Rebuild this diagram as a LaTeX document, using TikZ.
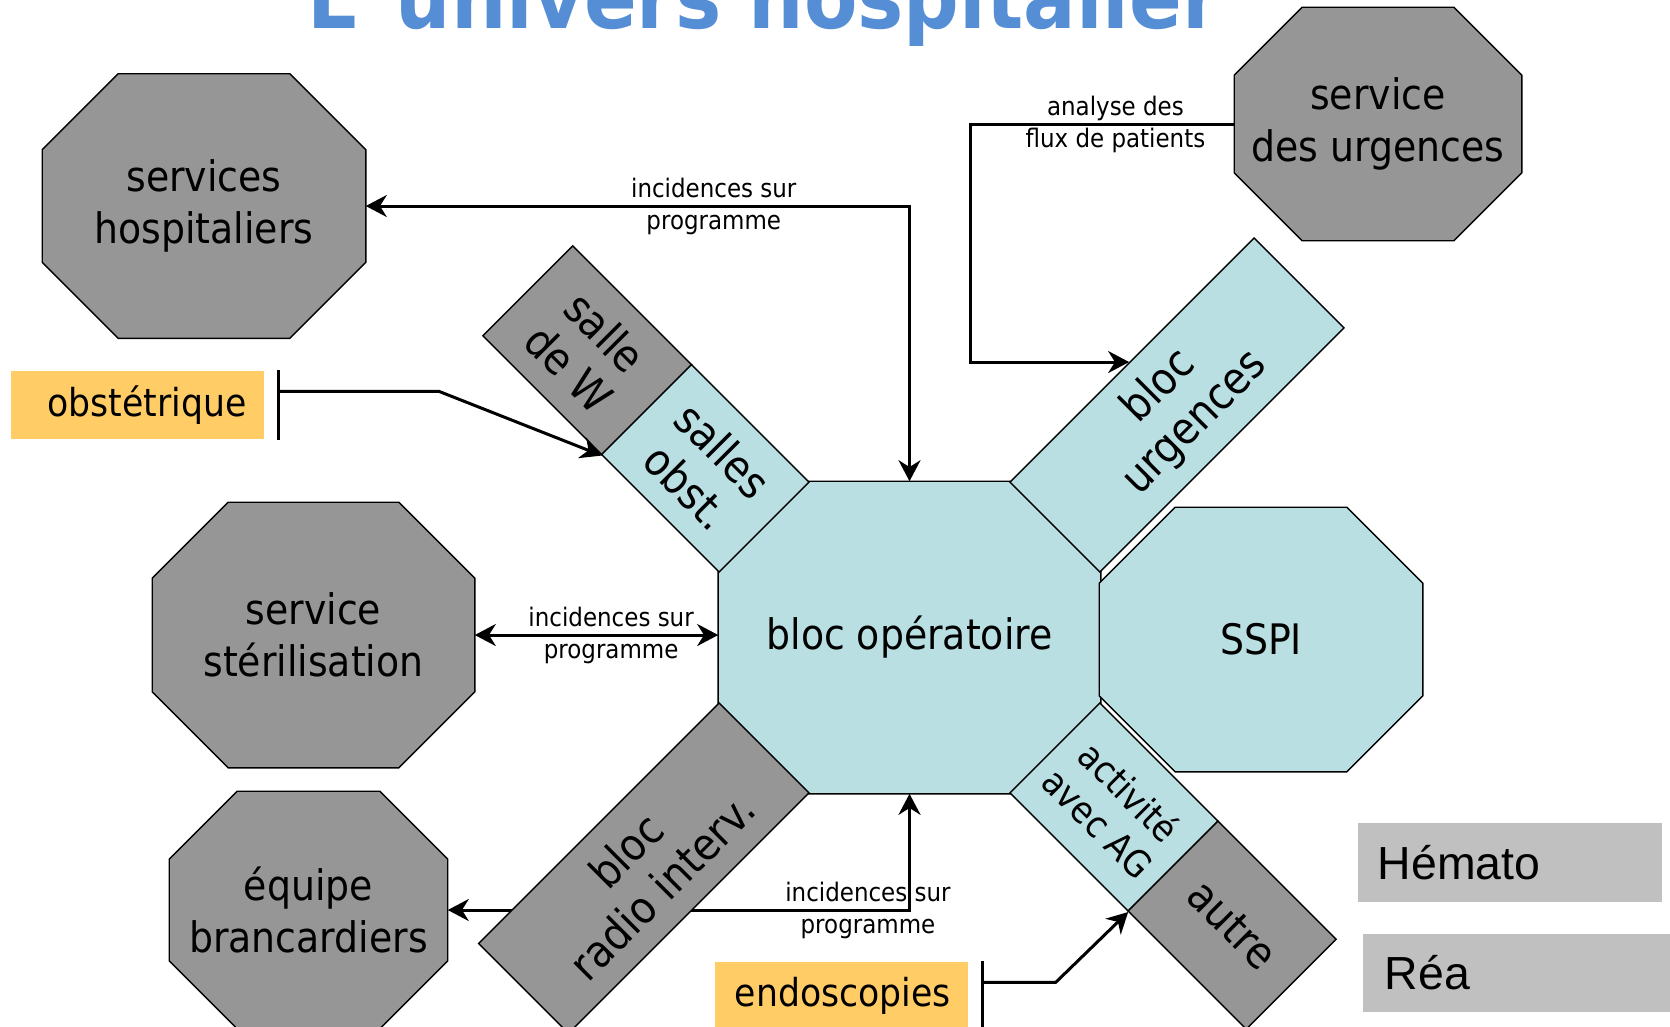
\documentclass[tikz,border=0pt]{standalone}
\usepackage{fontspec}
\setmainfont{DejaVu Sans}[FakeStretch=0.9]
\newfontfamily\boxfont{Liberation Sans}
\usepackage{tikz}
\usetikzlibrary{arrows.meta,positioning,calc,backgrounds}
\definecolor{octgray}{HTML}{969696}
\definecolor{octblue}{HTML}{B9DFE3}
\definecolor{tagorange}{HTML}{FFCC66}
\definecolor{boxgray}{HTML}{C0C0C0}
\definecolor{titleblue}{HTML}{558ED5}
% octagon behind a named node: name, chamfer, fill
\newcommand{\octoshape}[3]{%
  \begin{scope}[on background layer]
    \filldraw[line width=0.4pt, fill=#3]
      ($(#1.north west)+(#2,0)$) -- ($(#1.north east)+(-#2,0)$) -- ($(#1.north east)+(0,#2)$)
      -- ($(#1.south east)+(0,-#2)$) -- ($(#1.south east)+(-#2,0)$) -- ($(#1.south west)+(#2,0)$)
      -- ($(#1.south west)+(0,-#2)$) -- ($(#1.north west)+(0,#2)$) -- cycle;
  \end{scope}}

\begin{document}
\begin{tikzpicture}[
  x=0.01cm, y=-0.01cm,
  octo/.style  = {align=center, inner sep=0pt,
                  font=\fontsize{11.95}{14.8}\selectfont},
  arm/.style   = {draw, line width=0.4pt, align=center, inner sep=0pt,
                  minimum height=1.27cm, font=\fontsize{12.6}{14.6}\selectfont},
  tagbox/.style= {fill=tagorange, minimum width=2.53cm, minimum height=0.68cm,
                  text width=2.18cm, align=right, inner xsep=0.175cm,
                  font=\fontsize{10.95}{13}\selectfont},
  extbox/.style= {fill=boxgray, minimum height=0.785cm, align=left,
                  font=\boxfont\fontsize{13.2}{15}\selectfont},
  arr/.style   = {-{Stealth[length=0.21cm, width=0.22cm]}, line width=0.03cm},
  dblarr/.style= {{Stealth[length=0.21cm, width=0.22cm]}-{Stealth[length=0.21cm, width=0.22cm]},
                  line width=0.03cm},
  bar/.style   = {line width=0.03cm},
  tag/.style   = {font=\fontsize{7.26}{9.1}\selectfont, align=center, inner sep=0pt}
]
\useasboundingbox (0,0) rectangle (1670,1026);

\node[anchor=base, text=titleblue, font=\fontsize{24.6}{28}\selectfont\bfseries]
     (title) at (764,28) {L' univers hospitalier};

% services autour du bloc
\node[octo, minimum width=3.22cm, minimum height=2.63cm] (hosp) at (204,206) {services\\hospitaliers};
\octoshape{hosp}{76}{octgray}
\node[octo, minimum width=2.86cm, minimum height=2.32cm] (urgsvc) at (1378,124) {service\\des urgences};
\octoshape{urgsvc}{68}{octgray}
\node[octo, minimum width=3.21cm, minimum height=2.64cm] (ster) at (313.5,635) {service\\stérilisation};
\octoshape{ster}{76}{octgray}
\node[octo, minimum width=2.77cm, minimum height=2.36cm] (branc) at (308.5,910) {équipe\\brancardiers};
\octoshape{branc}{68}{octgray}

% bloc operatoire et ses salles
\node[octo, minimum width=3.81cm, minimum height=3.11cm] (blocop) at (909.5,637.5) {bloc opératoire};
\octoshape{blocop}{90}{octblue}
\node[octo, minimum width=3.22cm, minimum height=2.63cm] (sspi) at (1261,639.5) {SSPI};
\octoshape{sspi}{76}{octblue}

\node[arm, fill=octgray, rotate=-45, minimum width=1.68cm] (wroom) at (587.2,350.2) {salle\\de W};
\node[arm, fill=octblue, rotate=-45, minimum width=1.66cm] (sobst) at (705.3,468.3) {salles\\obst.};
\node[arm, fill=octblue, rotate=45, minimum width=3.45cm] (burg) at (1177,405) {bloc\\urgences};
\node[arm, fill=octgray, rotate=45, minimum width=3.40cm] (radio) at (643.8,868.2) {bloc\\radio interv.};
\node[arm, fill=octblue, rotate=-45, minimum width=1.67cm, font=\fontsize{10.5}{12.6}\selectfont]
     (actag) at (1114,807) {activité\\avec AG};
\node[arm, fill=octgray, rotate=-45, minimum width=1.67cm] (autre) at (1232.1,925.1) {autre};

\node[tagbox] (obstet) at (137.5,405) {obstétrique};
\node[tagbox] (endo) at (841.5,996) {endoscopies};

\node[extbox, minimum width=3.04cm, text width=2.64cm, inner xsep=0.2cm]
     (hemato) at (1510,862.5) {Hémato};
\node[extbox, minimum width=3.07cm, text width=2.63cm, inner xsep=0.22cm]
     (rea) at (1516.5,973) {Réa};

% liaisons
\draw[dblarr] (hosp.east) -| node[tag, pos=0.32]{incidences sur\\programme} (blocop.north);
\draw[dblarr] (ster.east) -- node[tag, pos=0.56]{incidences sur\\programme} (ster.east -| blocop.west);
\begin{scope}[on background layer]
\draw[dblarr] (branc.east) -| node[tag, pos=0.455]{incidences sur\\programme} (blocop.south);
\end{scope}

\draw[arr] (urgsvc.west) -- node[tag, pos=0.45]{analyse des\\flux de patients} ++(-264,0)
      |- ($(burg.north west)!0.49!(burg.north east)$);

\coordinate (obstbar) at ($(obstet.north east)+(14,21)$);
\draw[bar] ($(obstet.north east)+(14,0)$) -- ($(obstet.south east)+(14,0)$);
\draw[arr] (obstbar) -- ++(160,0) -- (wroom.south east);

\coordinate (endobar) at ($(endo.north east)+(14,21)$);
\draw[bar] ($(endo.north east)+(14,0)$) -- ($(endo.south east)+(14,0)$);
\draw[arr] (endobar) -- ++(73,0) -- (actag.south east);

\end{tikzpicture}
\end{document}
